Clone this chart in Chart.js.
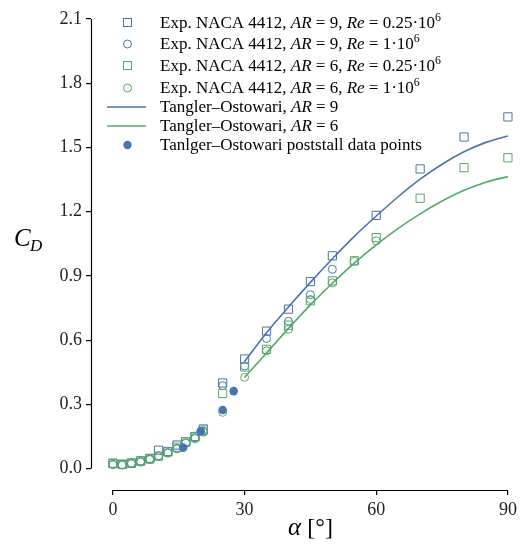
<!DOCTYPE html>
<html>
<head>
<meta charset="utf-8">
<script src="https://cdn.jsdelivr.net/npm/chart.js@4.4.0/dist/chart.umd.min.js"></script>
<style>
  html, body { margin: 0; padding: 0; background: #fff; }
  #wrap { width: 521px; height: 548px; position: relative; }
</style>
</head>
<body>
<div id="wrap"><canvas id="chart"></canvas></div>
<script>
var blue = '#4c72b0';
var green = '#55a868';
var serif = "'Liberation Serif', 'Times New Roman', serif";

// experimental angles of attack (deg)
var alphaLow = [0, 2.1, 4.2, 6.3, 8.4, 10.4, 12.5, 14.6, 16.6, 18.7, 20.6];

// AR = 9, Re = 0.25e6 (squares)
var alphaA9R025 = alphaLow.concat([25, 30, 35, 40, 45, 50, 60, 70, 80, 90]);
var cdA9R025 = [0.025, 0.020, 0.026, 0.036, 0.048, 0.086, 0.080, 0.110, 0.125, 0.150, 0.185,
                0.400, 0.512, 0.642, 0.745, 0.874, 0.994, 1.183, 1.400, 1.549, 1.643];

// AR = 9, Re = 1e6 (circles)
var alphaA9R1 = alphaLow.concat([25, 30, 35, 40, 45, 50]);
var cdA9R1 = [0.020, 0.018, 0.024, 0.033, 0.045, 0.060, 0.075, 0.095, 0.120, 0.145, 0.175,
              0.387, 0.480, 0.608, 0.688, 0.812, 0.931];

// AR = 6, Re = 0.25e6 (squares)
var alphaA6R025 = alphaLow.concat([25, 30, 35, 40, 45, 50, 55, 60, 70, 80, 90]);
var cdA6R025 = [0.024, 0.020, 0.026, 0.035, 0.045, 0.058, 0.078, 0.100, 0.125, 0.148, 0.180,
                0.351, 0.475, 0.557, 0.670, 0.784, 0.877, 0.971, 1.079, 1.263, 1.406, 1.452];

// AR = 6, Re = 1e6 (circles)
var alphaA6R1 = alphaLow.concat([25, 30, 35, 40, 45, 50, 55, 60]);
var cdA6R1 = [0.018, 0.016, 0.022, 0.030, 0.042, 0.056, 0.072, 0.092, 0.118, 0.140, 0.170,
              0.263, 0.426, 0.550, 0.651, 0.790, 0.868, 0.968, 1.064];

// Tangler-Ostowari model curves
var alphaModel = [30, 35, 40, 45, 50, 55, 60, 65, 70, 75, 80, 85, 90];
var cdModelA9 = [0.500, 0.635, 0.755, 0.870, 0.980, 1.085, 1.180, 1.270, 1.352, 1.422, 1.480, 1.524, 1.554];
var cdModelA6 = [0.426, 0.540, 0.655, 0.765, 0.866, 0.960, 1.045, 1.122, 1.190, 1.250, 1.300, 1.338, 1.364];

// poststall data points
var alphaPost = [16, 20, 25, 27.5];
var cdPost = [0.098, 0.174, 0.274, 0.362];

var xTicks = [0, 30, 60, 90];
var yTicks = [0, 0.3, 0.6, 0.9, 1.2, 1.5, 1.8, 2.1];

function pts(xs, ys) {
  return xs.map(function(x, i) { return { x: x, y: ys[i] }; });
}

function marks(data, style, color, r, order) {
  return {
    data: data, showLine: false, pointStyle: style, pointRadius: r, pointHoverRadius: r,
    borderColor: color, backgroundColor: 'rgba(0,0,0,0)', pointBorderWidth: 1, order: order
  };
}

// legend rows: text pieces, i = italic, s = superscript
var legendRows = [
  { kind: 'rect', color: blue, parts: [['Exp. NACA 4412, '], ['AR', 'i'], [' = 9, '], ['Re', 'i'], [' = 0.25\u00b710'], ['6', 's']] },
  { kind: 'circle', color: blue, parts: [['Exp. NACA 4412, '], ['AR', 'i'], [' = 9, '], ['Re', 'i'], [' = 1\u00b710'], ['6', 's']] },
  { kind: 'rect', color: green, parts: [['Exp. NACA 4412, '], ['AR', 'i'], [' = 6, '], ['Re', 'i'], [' = 0.25\u00b710'], ['6', 's']] },
  { kind: 'circle', color: green, parts: [['Exp. NACA 4412, '], ['AR', 'i'], [' = 6, '], ['Re', 'i'], [' = 1\u00b710'], ['6', 's']] },
  { kind: 'line', color: blue, parts: [['Tangler\u2013Ostowari, '], ['AR', 'i'], [' = 9']] },
  { kind: 'line', color: green, parts: [['Tangler\u2013Ostowari, '], ['AR', 'i'], [' = 6']] },
  { kind: 'dot', color: blue, parts: [['Tanlger\u2013Ostowari poststall data points']] }
];
var legendY = [23, 44, 66, 88, 107, 126, 145];

function drawParts(ctx, parts, x, y, size) {
  parts.forEach(function(p) {
    var st = p[1];
    var fs = st === 's' ? size * 0.7 : size;
    ctx.font = (st === 'i' ? 'italic ' : '') + fs + 'px ' + serif;
    ctx.fillText(p[0], x, st === 's' ? y - size * 0.38 : y);
    x += ctx.measureText(p[0]).width;
  });
}

var decor = {
  id: 'decor',
  afterDraw: function(chart) {
    var ctx = chart.ctx, xs = chart.scales.x, ys = chart.scales.y;
    ctx.save();
    // detached spines
    ctx.strokeStyle = '#000';
    ctx.lineWidth = 1.2;
    ctx.beginPath();
    var lx = Math.round(xs.left) + 0.5;
    ctx.moveTo(lx, ys.getPixelForValue(0));
    ctx.lineTo(lx, ys.getPixelForValue(2.1));
    var by = Math.round(ys.bottom) + 0.5;
    ctx.moveTo(xs.getPixelForValue(0), by);
    ctx.lineTo(xs.getPixelForValue(90), by);
    ctx.stroke();

    // axis titles
    ctx.fillStyle = '#000';
    ctx.textBaseline = 'alphabetic';
    ctx.textAlign = 'left';
    ctx.font = 'italic 25px ' + serif;
    ctx.fillText('C', 14, 246);
    ctx.font = 'italic 17px ' + serif;
    ctx.fillText('D', 30, 251);
    ctx.font = 'italic 25px ' + serif;
    var cx = (xs.getPixelForValue(0) + xs.getPixelForValue(90)) / 2;
    var w1 = ctx.measureText('\u03b1 ').width;
    ctx.font = '24px ' + serif;
    var w2 = ctx.measureText('[\u00b0]').width;
    var sx = cx - (w1 + w2) / 2;
    ctx.font = 'italic 25px ' + serif;
    ctx.fillText('\u03b1 ', sx, 535);
    ctx.font = '24px ' + serif;
    ctx.fillText('[\u00b0]', sx + w1, 535);

    // legend
    ctx.textBaseline = 'middle';
    legendRows.forEach(function(row, i) {
      var y = legendY[i];
      ctx.strokeStyle = row.color;
      ctx.fillStyle = row.color;
      ctx.lineWidth = 1;
      if (row.kind === 'rect') {
        ctx.strokeRect(123.5, y - 4.5, 8, 8);
      } else if (row.kind === 'circle') {
        ctx.beginPath(); ctx.arc(127.5, y, 4, 0, Math.PI * 2); ctx.stroke();
      } else if (row.kind === 'dot') {
        ctx.beginPath(); ctx.arc(127.5, y, 4.2, 0, Math.PI * 2); ctx.fill();
      } else {
        ctx.lineWidth = 1.6;
        ctx.beginPath(); ctx.moveTo(107, y); ctx.lineTo(146, y); ctx.stroke();
      }
      ctx.fillStyle = '#000';
      drawParts(ctx, row.parts, 160, y + 1, 17);
    });
    ctx.restore();
  }
};

var ctx = document.getElementById('chart').getContext('2d');
var chart = new Chart(ctx, {
  type: 'scatter',
  data: {
    datasets: [
      { data: pts(alphaPost, cdPost), showLine: false, pointStyle: 'circle', pointRadius: 4.3,
        borderColor: blue, backgroundColor: blue, pointBorderWidth: 0, order: 0 },
      { data: pts(alphaModel, cdModelA9), showLine: true, pointRadius: 0, borderColor: blue,
        borderWidth: 1.6, cubicInterpolationMode: 'monotone', order: 1 },
      { data: pts(alphaModel, cdModelA6), showLine: true, pointRadius: 0, borderColor: green,
        borderWidth: 1.6, cubicInterpolationMode: 'monotone', order: 1 },
      marks(pts(alphaA6R1, cdA6R1), 'circle', green, 4, 2),
      marks(pts(alphaA6R025, cdA6R025), 'rect', green, 5.8, 3),
      marks(pts(alphaA9R1, cdA9R1), 'circle', blue, 4, 4),
      marks(pts(alphaA9R025, cdA9R025), 'rect', blue, 5.8, 5)
    ]
  },
  options: {
    responsive: true,
    maintainAspectRatio: false,
    animation: false,
    layout: { padding: { top: 5, right: 0, left: 0, bottom: 0 } },
    plugins: { legend: { display: false }, tooltip: { enabled: false } },
    scales: {
      x: {
        type: 'linear', min: -5, max: 91.25,
        afterBuildTicks: function(s) { s.ticks = xTicks.map(function(v) { return { value: v }; }); },
        afterFit: function(s) { s.height = 58; },
        grid: { display: true, drawOnChartArea: false, drawTicks: true, tickLength: 5, color: '#000', lineWidth: 1.2 },
        border: { display: false },
        ticks: { color: '#222', padding: 4, maxRotation: 0, font: { family: serif, size: 18 },
          callback: function(v) { return String(v); } }
      },
      y: {
        type: 'linear', min: -0.1, max: 2.12,
        afterBuildTicks: function(s) { s.ticks = yTicks.map(function(v) { return { value: v }; }); },
        afterFit: function(s) { s.width = 91; },
        grid: { display: true, drawOnChartArea: false, drawTicks: true, tickLength: 5, color: '#000', lineWidth: 1.2 },
        border: { display: false },
        ticks: { color: '#222', padding: 4, font: { family: serif, size: 18 },
          callback: function(v) { return v.toFixed(1); } }
      }
    }
  },
  plugins: [decor]
});
</script>
</body>
</html>
